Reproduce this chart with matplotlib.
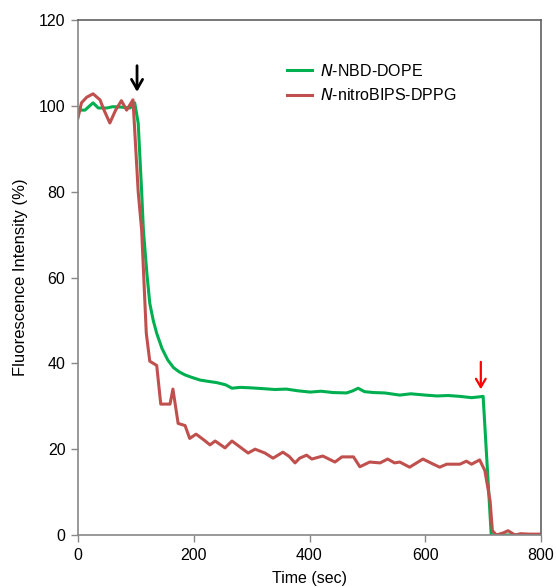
import matplotlib
matplotlib.use("Agg")
import matplotlib.pyplot as plt

plt.rcParams['font.family'] = ['Liberation Sans', 'DejaVu Sans']

# N-NBD-DOPE (green)
nbd_time = [0, 12, 26, 35, 50, 60, 75, 90, 98, 104, 110, 113, 119, 124, 130, 136,
            145, 155, 165, 175, 185, 195, 211, 225, 240, 255, 266, 280, 297, 320,
            340, 360, 380, 401, 420, 440, 464, 475, 484, 495, 510, 530, 556, 575,
            600, 620, 640, 660, 680, 694, 700, 714, 730, 760, 800]
nbd_int = [99, 99, 100.7, 99.5, 99.5, 99.8, 99.7, 99.5, 100.7, 96, 80, 71, 61, 54,
           50, 47, 43.5, 40.8, 39, 38, 37.3, 36.8, 36.1, 35.8, 35.5, 35, 34.2, 34.4,
           34.3, 34.1, 33.9, 34, 33.6, 33.3, 33.5, 33.2, 33.1, 33.6, 34.2, 33.4,
           33.2, 33.1, 32.6, 32.9, 32.6, 32.4, 32.5, 32.3, 32, 32.2, 32.3, 0, 0, 0, 0]

# N-nitroBIPS-DPPG (red)
bips_time = [0, 6, 15, 26, 38, 45, 55, 65, 75, 84, 95, 104, 110, 118, 124, 136,
             143, 159, 164, 173, 185, 193, 204, 211, 219, 228, 237, 254, 266, 280,
             294, 306, 323, 337, 354, 365, 375, 383, 395, 404, 423, 444, 456, 466,
             476, 487, 504, 522, 535, 547, 556, 573, 596, 614, 625, 637, 650, 660,
             671, 680, 694, 703, 712, 716, 723, 735, 743, 755, 765, 780, 800]
bips_int = [97.2, 100.7, 102, 102.8, 101.4, 99, 96, 99, 101.2, 99, 101.4, 80, 71,
            47, 40.5, 39.5, 30.5, 30.5, 34, 26, 25.5, 22.5, 23.5, 22.8, 22, 21,
            21.9, 20.3, 21.9, 20.5, 19.1, 20, 19.1, 17.9, 19.3, 18.3, 16.8, 17.9,
            18.6, 17.7, 18.4, 17, 18.2, 18.2, 18.2, 15.9, 17, 16.8, 17.7, 16.8, 17,
            15.8, 17.7, 16.5, 15.8, 16.5, 16.5, 16.5, 17.2, 16.5, 17.5, 15, 8, 1,
            0, 0.5, 1, 0, 0.3, 0.2, 0.2]

x_ticks = [0, 200, 400, 600, 800]
y_ticks = [0, 20, 40, 60, 80, 100, 120]

fig = plt.figure(figsize=(5.56, 5.87), dpi=100)
ax = fig.add_axes([78 / 556, 1 - 535 / 587, (541 - 78) / 556, (535 - 20) / 587])

ax.plot(nbd_time, nbd_int, color='#00B050', lw=2.2, label=r'$\it{N}$-NBD-DOPE')
ax.plot(bips_time, bips_int, color='#C0504D', lw=2.2, label=r'$\it{N}$-nitroBIPS-DPPG')

ax.set_xlim(0, 800)
ax.set_ylim(0, 120)
ax.set_xticks(x_ticks)
ax.set_yticks(y_ticks)
ax.tick_params(direction='out', length=5, width=1, color='#888888',
               labelsize=11.5, pad=4)
for side in ['left', 'bottom']:
    ax.spines[side].set_color('#888888')
    ax.spines[side].set_linewidth(1.2)
for side in ['top', 'right']:
    ax.spines[side].set_color('#606060')
    ax.spines[side].set_linewidth(1.2)

ax.set_xlabel('Time (sec)', fontsize=11.5, labelpad=6)
ax.set_ylabel('Fluorescence Intensity (%)', fontsize=12, labelpad=8)

# arrows marking additions
ax.annotate('', xy=(102, 102.6), xytext=(102, 110),
            arrowprops=dict(arrowstyle='->,head_length=0.7,head_width=0.4',
                            color='black', lw=2))
ax.annotate('', xy=(696, 33.3), xytext=(696, 41),
            arrowprops=dict(arrowstyle='->,head_length=0.6,head_width=0.35',
                            color='red', lw=1.6))

ax.legend(loc='upper left', bbox_to_anchor=(0.42, 0.945), frameon=False,
          fontsize=11.5, handlelength=1.6, handletextpad=0.5, labelspacing=0.55)

fig.savefig('out.png', dpi=100)
